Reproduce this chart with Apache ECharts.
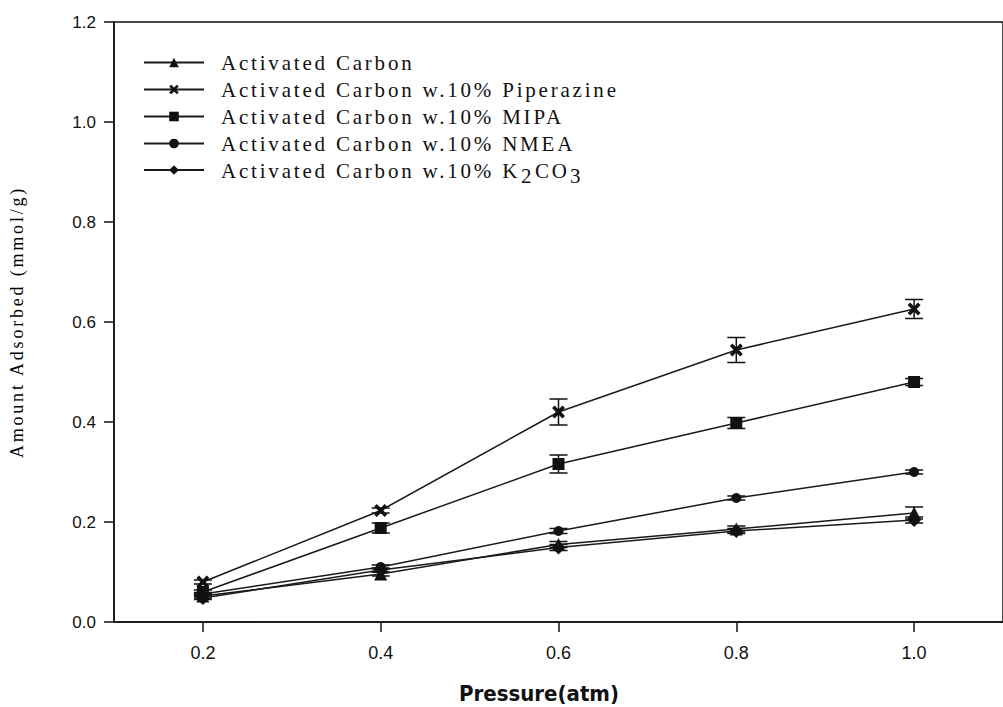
<!DOCTYPE html>
<html>
<head>
<meta charset="utf-8">
<script src="https://cdn.jsdelivr.net/npm/echarts@6/dist/echarts.min.js"></script>
<style>
html,body{margin:0;padding:0;background:#fff;}
#c{width:1003px;height:707px;}
#c svg text[style*="Liberation Serif"]{letter-spacing:2.8px;}
</style>
</head>
<body>
<div id="c"></div>
<script>
// ---- data ----
const pressure = [0.2, 0.4, 0.6, 0.8, 1.0];
const xTicks = [0.2, 0.4, 0.6, 0.8, 1.0];
const seriesNames = [
  'Activated Carbon',
  'Activated Carbon w.10% Piperazine',
  'Activated Carbon w.10% MIPA',
  'Activated Carbon w.10% NMEA',
  'Activated Carbon w.10% K2CO3'
];
const acVals    = [0.052, 0.096, 0.155, 0.186, 0.218];
const acErr     = [0.004, 0.004, 0.006, 0.006, 0.012];
const pipVals   = [0.080, 0.223, 0.420, 0.544, 0.626];
const pipErr    = [0.004, 0.005, 0.026, 0.025, 0.019];
const mipaVals  = [0.060, 0.188, 0.316, 0.398, 0.480];
const mipaErr   = [0.004, 0.010, 0.018, 0.011, 0.007];
const nmeaVals  = [0.056, 0.110, 0.182, 0.248, 0.300];
const nmeaErr   = [0.003, 0.004, 0.005, 0.004, 0.004];
const k2Vals    = [0.048, 0.104, 0.149, 0.182, 0.204];
const k2Err     = [0.003, 0.004, 0.006, 0.005, 0.006];

const xSymbol = 'path://M0,2 L2,0 L5,3 L8,0 L10,2 L7,5 L10,8 L8,10 L5,7 L2,10 L0,8 L3,5 Z';
const valueSets = [acVals, pipVals, mipaVals, nmeaVals, k2Vals];
const errSets = [acErr, pipErr, mipaErr, nmeaErr, k2Err];
const symbols = ['triangle', xSymbol, 'rect', 'circle', 'diamond'];
const symbolSizes = [13, 13, 12, 10, 14];

// width helper for letter-spaced serif rich-text segments
const LS = 2.8;
const mctx = document.createElement('canvas').getContext('2d');
mctx.font = '21px "Liberation Serif"';
const segW = s => Math.ceil(mctx.measureText(s).width + LS * s.length);

const chart = echarts.init(document.getElementById('c'), null, {renderer: 'svg'});
const INK = '#111';

const lineSeries = seriesNames.map((name, i) => ({
  name: name,
  type: 'line',
  data: pressure.map((p, j) => [p, valueSets[i][j]]),
  symbol: symbols[i],
  symbolSize: symbolSizes[i],
  showAllSymbol: true,
  lineStyle: {color: '#1a1a1a', width: 1.5},
  itemStyle: {color: INK, borderWidth: 0},
  z: 3,
  emphasis: {disabled: true},
  animation: false
}));

const errSeries = seriesNames.map((name, i) => ({
  name: name + ' err',
  type: 'custom',
  data: pressure.map((p, j) => [p, valueSets[i][j], errSets[i][j]]),
  renderItem: function (params, api) {
    const x = api.value(0), y = api.value(1), e = api.value(2);
    const top = api.coord([x, y + e]);
    const bot = api.coord([x, y - e]);
    const hw = 9;
    const st = {stroke: INK, lineWidth: 1.5};
    return {
      type: 'group',
      children: [
        {type: 'line', shape: {x1: top[0], y1: top[1], x2: bot[0], y2: bot[1]}, style: st},
        {type: 'line', shape: {x1: top[0] - hw, y1: top[1], x2: top[0] + hw, y2: top[1]}, style: st},
        {type: 'line', shape: {x1: bot[0] - hw, y1: bot[1], x2: bot[0] + hw, y2: bot[1]}, style: st}
      ]
    };
  },
  z: 2,
  silent: true,
  animation: false
}));

const serifSeg = {fontFamily: 'Liberation Serif', fontSize: 21, lineHeight: 20, color: '#111'};

chart.setOption({
  animation: false,
  backgroundColor: '#fff',
  grid: {
    left: 113, right: -11, top: 22, bottom: 85,
    show: true, borderColor: INK, borderWidth: 1.5, backgroundColor: 'transparent'
  },
  legend: {
    data: seriesNames,
    orient: 'vertical',
    left: 143,
    top: 52,
    padding: 0,
    itemWidth: 60,
    itemHeight: 12,
    itemGap: 6,
    selectedMode: false,
    formatter: function (n) {
      if (n.indexOf('K2CO3') >= 0) {
        return '{a|Activated Carbon w.10% K}{s|2}{b|CO}{t|3}';
      }
      return n;
    },
    textStyle: {
      fontFamily: 'Liberation Serif',
      fontSize: 21,
      lineHeight: 20,
      color: '#111',
      padding: [0, 0, 0, 12],
      rich: {
        a: Object.assign({}, serifSeg, {verticalAlign: 'top', width: segW('Activated Carbon w.10% K')}),
        b: Object.assign({}, serifSeg, {verticalAlign: 'top', width: segW('CO')}),
        s: Object.assign({}, serifSeg, {verticalAlign: 'top', padding: [5, 0, 0, 0], width: segW('2')}),
        t: Object.assign({}, serifSeg, {verticalAlign: 'top', padding: [5, 0, 0, 0]})
      }
    }
  },
  xAxis: {
    type: 'value',
    min: 0.1,
    max: 1.1,
    axisLine: {show: true, onZero: false, lineStyle: {color: INK, width: 1.5}},
    axisTick: {show: true, inside: false, length: 10, customValues: xTicks, lineStyle: {color: INK, width: 1.5}},
    axisLabel: {
      customValues: xTicks,
      margin: 22,
      fontFamily: "'Liberation Sans', Arial, sans-serif",
      fontSize: 18,
      color: '#111',
      formatter: v => v.toFixed(1)
    },
    splitLine: {show: false}
  },
  yAxis: {
    type: 'value',
    min: 0,
    max: 1.2,
    interval: 0.2,
    name: 'Amount Adsorbed (mmol/g)',
    nameLocation: 'middle',
    nameRotate: 90,
    nameGap: 88,
    nameTextStyle: {fontFamily: 'Liberation Serif', fontSize: 18, color: '#000'},
    axisLine: {show: true, lineStyle: {color: INK, width: 1.5}},
    axisTick: {show: true, inside: false, length: 10, lineStyle: {color: INK, width: 1.5}},
    axisLabel: {
      margin: 18,
      fontFamily: "'Liberation Sans', Arial, sans-serif",
      fontSize: 17,
      color: '#111',
      formatter: v => v.toFixed(1)
    },
    splitLine: {show: false}
  },
  graphic: [{
    type: 'text',
    x: 539,
    y: 693,
    style: {
      text: 'Pressure(atm)',
      align: 'center',
      verticalAlign: 'middle',
      fontFamily: "'Liberation Sans Narrow', 'DejaVu Sans Condensed', sans-serif",
      fontWeight: 'bold',
      fontSize: 22,
      fill: '#111'
    }
  }],
  series: errSeries.concat(lineSeries)
});
</script>
</body>
</html>
